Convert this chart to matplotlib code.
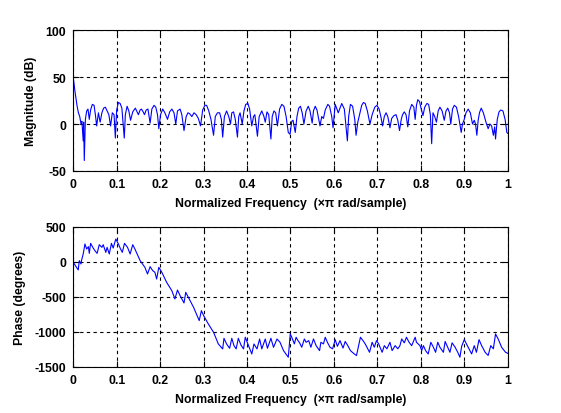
import matplotlib
matplotlib.use("Agg")
import matplotlib.pyplot as plt

# ---- data ----
mag_freq = [0.000, 0.004, 0.009, 0.012, 0.015, 0.018, 0.020, 0.023, 0.024, 0.0255, 0.028, 0.031, 0.034,
            0.037, 0.040, 0.044, 0.048, 0.051, 0.054, 0.058, 0.062, 0.066, 0.070, 0.074, 0.078, 0.082,
            0.086, 0.090, 0.094, 0.097, 0.100, 0.104, 0.108, 0.112, 0.1175, 0.120, 0.124, 0.128, 0.132,
            0.137, 0.143, 0.147, 0.150, 0.154, 0.157, 0.161, 0.164, 0.168, 0.172, 0.177, 0.181, 0.186,
            0.190, 0.194, 0.197, 0.201, 0.206, 0.211, 0.217, 0.222, 0.227, 0.232, 0.236, 0.240, 0.246,
            0.250, 0.255, 0.260, 0.264, 0.268, 0.273, 0.278, 0.283, 0.288, 0.293, 0.298, 0.303, 0.307,
            0.312, 0.317, 0.323, 0.327, 0.332, 0.337, 0.341, 0.344, 0.348, 0.353, 0.358, 0.362, 0.365,
            0.369, 0.373, 0.378, 0.381, 0.384, 0.389, 0.393, 0.397, 0.402, 0.406, 0.411, 0.415, 0.418,
            0.424, 0.428, 0.434, 0.439, 0.442, 0.446, 0.450, 0.455, 0.458, 0.462, 0.466, 0.470, 0.475,
            0.480, 0.485, 0.490, 0.495, 0.499, 0.503, 0.506, 0.511, 0.515, 0.519, 0.523, 0.527, 0.531,
            0.536, 0.541, 0.545, 0.550, 0.553, 0.557, 0.561, 0.565, 0.568, 0.572, 0.576, 0.580, 0.586,
            0.590, 0.595, 0.598, 0.603, 0.610, 0.618, 0.624, 0.631, 0.634, 0.638, 0.643, 0.648, 0.651,
            0.655, 0.660, 0.664, 0.668, 0.672, 0.677, 0.683, 0.688, 0.694, 0.699, 0.704, 0.708, 0.712,
            0.716, 0.720, 0.724, 0.729, 0.733, 0.738, 0.743, 0.747, 0.751, 0.755, 0.758, 0.762, 0.766,
            0.770, 0.774, 0.779, 0.784, 0.787, 0.790, 0.793, 0.797, 0.801, 0.805, 0.809, 0.814, 0.818,
            0.822, 0.825, 0.828, 0.832, 0.836, 0.840, 0.844, 0.849, 0.854, 0.858, 0.862, 0.866, 0.869,
            0.873, 0.877, 0.882, 0.887, 0.893, 0.896, 0.900, 0.904, 0.909, 0.914, 0.919, 0.923, 0.926,
            0.929, 0.932, 0.935, 0.939, 0.944, 0.950, 0.955, 0.959, 0.963, 0.967, 0.970, 0.972, 0.976,
            0.980, 0.984, 0.989, 0.994, 0.998, 1.000]
mag_db = [50, 35, 19, 12, 8, 0, 3, -18, 2, -39, 5, 14, 16,
          5, 15, 21, 20, 10, -2, 12, 2, 12, 17, 18, 14, 10,
          -2, 12, 10, -15, 15, 23, 22, 17, -15, 10, 19, 14, 4,
          13, 17, 13, 10, 15, 16, 13, 10, 15, 16, 1, 16, 20,
          18, 10, -5, 10, 16, 12, 5, 13, 16, 12, 0, 14, 16,
          10, -7, 8, 12, 11, 8, 12, 10, 6, -2, 15, 20, 20,
          14, 5, -12, 8, 12, 12, 5, -14, 8, 14, 8, 0, 12,
          13, 5, -14, 8, 12, 0, 14, 21, 22, 16, -2, 8, 10,
          -13, 8, 14, 8, 2, 13, 10, -16, 8, 14, 12, -2, 16,
          21, 19, 8, -9, -11, 3, 4, -9, 8, 17, 19, 12, 0,
          14, 19, 14, 1, 14, 19, 15, 5, -2, 8, 6, 15, 21,
          19, 8, -4, 21, 12, 22, 16, -18, 8, 21, 19, 5, -12,
          2, 12, 20, 23, 22, 14, 0, 10, 18, 20, 16, 8, -2,
          8, 12, 8, -4, 6, 9, 10, 4, -7, 5, 10, 13, 10,
          -3, 14, 21, 18, 5, 20, 26, 24, 16, 9, 18, 22, 21,
          10, -21, 12, 8, 2, 14, 18, 14, 4, 14, 17, 12, 0,
          16, 20, 18, 8, -9, 0, 5, 12, 16, 12, 0, 4, 0,
          -12, 4, 12, 17, 12, 2, -5, 0, -2, -12, -3, -16, 5,
          13, 15, 14, 5, -9, -10]

phase_freq = [0.000, 0.0116, 0.014, 0.018, 0.019, 0.023, 0.027, 0.031, 0.035, 0.037, 0.040, 0.046,
              0.050, 0.055, 0.060, 0.066, 0.069, 0.075, 0.078, 0.083, 0.088, 0.092, 0.098, 0.104,
              0.109, 0.113, 0.118, 0.125, 0.131, 0.137, 0.142, 0.154, 0.165, 0.171, 0.177, 0.183,
              0.188, 0.192, 0.197, 0.204, 0.215, 0.227, 0.234, 0.240, 0.246, 0.255, 0.259, 0.265,
              0.277, 0.290, 0.295, 0.301, 0.311, 0.323, 0.334, 0.344, 0.347, 0.353, 0.360, 0.365,
              0.370, 0.375, 0.380, 0.386, 0.392, 0.396, 0.403, 0.411, 0.416, 0.423, 0.429, 0.434,
              0.442, 0.447, 0.455, 0.461, 0.469, 0.476, 0.484, 0.495, 0.4995, 0.503, 0.509, 0.513,
              0.516, 0.521, 0.526, 0.532, 0.536, 0.542, 0.547, 0.553, 0.559, 0.567, 0.570, 0.576,
              0.580, 0.585, 0.591, 0.597, 0.603, 0.608, 0.614, 0.621, 0.626, 0.632, 0.638, 0.647,
              0.652, 0.661, 0.667, 0.672, 0.682, 0.688, 0.693, 0.698, 0.703, 0.711, 0.716, 0.722,
              0.729, 0.734, 0.741, 0.747, 0.752, 0.756, 0.762, 0.767, 0.773, 0.779, 0.787, 0.790,
              0.798, 0.802, 0.806, 0.811, 0.817, 0.823, 0.829, 0.834, 0.839, 0.844, 0.852, 0.856,
              0.862, 0.867, 0.872, 0.879, 0.885, 0.890, 0.894, 0.900, 0.905, 0.911, 0.917, 0.923,
              0.928, 0.934, 0.940, 0.948, 0.955, 0.961, 0.967, 0.972, 0.978, 0.986, 0.995, 1.000]
phase_deg = [-9, -118, 15, -33, 15, 110, 253, 181, 215, 119, 262, 195,
             157, 119, 243, 205, 243, 133, 205, 110, 262, 195, 324, 253,
             181, 133, 262, 205, 110, 243, 181, 15, -81, -176, -71, -128,
             -152, -248, -81, -152, -295, -414, -533, -405, -486, -590, -438, -509,
             -652, -842, -700, -781, -890, -1009, -1176, -1247, -1095, -1176, -1238, -1095,
             -1200, -1247, -1095, -1190, -1247, -1080, -1190, -1319, -1176, -1247, -1105, -1247,
             -1105, -1238, -1095, -1224, -1105, -1152, -1271, -1366, -1033, -1080, -1175, -1080,
             -1115, -1160, -1223, -1104, -1152, -1128, -1223, -1104, -1200, -1271, -1152, -1175,
             -1080, -1152, -1223, -1245, -1115, -1210, -1128, -1235, -1140, -1200, -1271, -1319,
             -1342, -1080, -1128, -1175, -1295, -1152, -1223, -1128, -1175, -1295, -1200, -1245,
             -1152, -1271, -1200, -1245, -1200, -1104, -1160, -1080, -1152, -1200, -1080, -1152,
             -1200, -1271, -1200, -1271, -1319, -1152, -1223, -1295, -1152, -1223, -1295, -1140,
             -1223, -1295, -1160, -1223, -1295, -1366, -1210, -1114, -1175, -1245, -1319, -1200,
             -1295, -1114, -1200, -1295, -1340, -1200, -1245, -1033, -1104, -1223, -1295, -1310]

x_ticks = [0, 0.1, 0.2, 0.3, 0.4, 0.5, 0.6, 0.7, 0.8, 0.9, 1]
x_tick_labels = ["0", "0.1", "0.2", "0.3", "0.4", "0.5", "0.6", "0.7", "0.8", "0.9", "1"]
mag_ticks = [-50, 0, 50, 100]
phase_ticks = [-1500, -1000, -500, 0, 500]
x_label = "Normalized Frequency  (×π rad/sample)"
mag_label = "Magnitude (dB)"
phase_label = "Phase (degrees)"

# ---- figure ----
plt.rcParams['font.family'] = ['Liberation Sans', 'DejaVu Sans']
plt.rcParams['font.weight'] = 'bold'
FS = 8.8

fig = plt.figure(figsize=(5.61, 4.14), dpi=100, facecolor='white')
ax1 = fig.add_axes([0.1305, 0.585, 0.7745, 0.339])
ax2 = fig.add_axes([0.1305, 0.112, 0.7745, 0.338])

def style(ax, yticks, ylim, ylabel):
    ax.set_xlim(0, 1)
    ax.set_ylim(*ylim)
    ax.set_xticks(x_ticks)
    ax.set_xticklabels(x_tick_labels, fontweight='bold')
    ax.set_yticks(yticks)
    ax.set_yticklabels([str(t) for t in yticks], fontweight='bold')
    ax.tick_params(direction='in', length=4, width=0.8, top=True, right=True,
                   labelsize=FS, colors='black')
    ax.tick_params(axis='x', pad=5)
    ax.tick_params(axis='y', pad=5)
    ax.grid(True, color='black', linestyle=(0, (3, 3)), linewidth=0.8)
    for s in ax.spines.values():
        s.set_linewidth(0.8)
        s.set_color('black')
    ax.set_xlabel(x_label, fontweight='bold', fontsize=FS, labelpad=5)
    ax.set_ylabel(ylabel, fontweight='bold', fontsize=FS, labelpad=6)

ax1.plot(mag_freq, mag_db, color='#0000ff', linewidth=0.8)
style(ax1, mag_ticks, (-50, 100), mag_label)

ax2.plot(phase_freq, phase_deg, color='#0000ff', linewidth=0.8)
style(ax2, phase_ticks, (-1500, 500), phase_label)

fig.savefig("out.png", dpi=100, facecolor='white')
